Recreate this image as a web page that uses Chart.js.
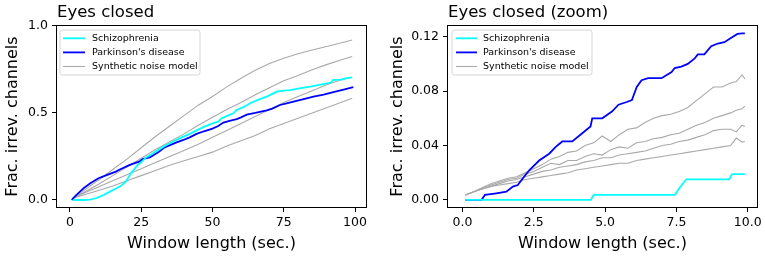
<!DOCTYPE html>
<html><head><meta charset="utf-8">
<script src="https://cdn.jsdelivr.net/npm/chart.js@4.4.0/dist/chart.umd.min.js"></script>
<style>
html,body{margin:0;padding:0;background:#fff;width:765px;height:257px;overflow:hidden}
.w{position:absolute;top:0;height:257px;width:382px}
#w1{left:0}
#w2{left:383px}
canvas{display:block}
</style></head><body>
<div class="w" id="w1"><canvas id="c1" width="382" height="257"></canvas></div>
<div class="w" id="w2"><canvas id="c2" width="382" height="257"></canvas></div>
<script>
// ---------- data: left panel (Eyes closed) ----------
const leftSchizX = [1,3,5,7,9,10.5,12,14,16,17.5,19.6,21.4,23.7,25,26.7,28.5,30.2,32,33.7,36,39.2,42,44.4,47,50,52,53.2,55,57.3,58.5,61,63.2,66,69,71,72.5,75,77.2,80,84.2,87,90.1,91.5,92.4,95,97,99];
const leftSchizY = [0,0,0,0.002,0.01,0.019,0.03,0.048,0.065,0.077,0.105,0.153,0.2,0.218,0.245,0.262,0.28,0.298,0.315,0.335,0.36,0.38,0.4,0.42,0.44,0.45,0.47,0.482,0.498,0.517,0.535,0.556,0.575,0.594,0.61,0.623,0.628,0.632,0.64,0.651,0.66,0.67,0.675,0.69,0.692,0.7,0.705];
const leftParkX = [0.6,2,3.5,5,7,8,10,11.5,14,16.1,17.5,20.8,22,24.3,25.5,26.9,28,30.4,31.3,33,35.1,37.2,39.8,42,44.4,47,50,52,53.8,56,58.5,60,62,65,69,71,73.7,76,78.4,82,85.4,89,92.4,96,99.4];
const leftParkY = [0,0.025,0.048,0.07,0.095,0.105,0.125,0.134,0.15,0.163,0.175,0.2,0.208,0.22,0.235,0.24,0.245,0.268,0.278,0.3,0.315,0.33,0.345,0.36,0.38,0.395,0.41,0.425,0.445,0.455,0.465,0.475,0.49,0.5,0.515,0.525,0.546,0.555,0.565,0.58,0.594,0.605,0.62,0.635,0.648];
const leftNoiseX = [1,5,10,15,20,25,30,35,40,45,50,55,60,65,70,75,80,85,90,95,99];
const leftNoiseA = [0.01,0.055,0.115,0.175,0.235,0.30,0.365,0.425,0.485,0.545,0.595,0.65,0.70,0.745,0.785,0.815,0.84,0.862,0.882,0.902,0.92];
const leftNoiseB = [0.01,0.045,0.09,0.14,0.19,0.24,0.29,0.335,0.38,0.43,0.475,0.52,0.56,0.605,0.645,0.685,0.715,0.748,0.778,0.805,0.825];
const leftNoiseC = [0.01,0.04,0.075,0.11,0.145,0.18,0.215,0.25,0.285,0.32,0.36,0.40,0.44,0.48,0.52,0.56,0.595,0.628,0.662,0.69,0.705];
const leftNoiseD = [0.01,0.03,0.055,0.08,0.11,0.14,0.17,0.20,0.225,0.25,0.275,0.31,0.34,0.37,0.41,0.44,0.47,0.50,0.53,0.56,0.585];
const leftXTicks = [0,25,50,75,100];
const leftXTickLabels = ['0','25','50','75','100'];
const leftYTicks = [0,0.5,1.0];
const leftYTickLabels = ['0.0','0.5','1.0'];

// ---------- data: right panel (Eyes closed (zoom)) ----------
const rightSchizX = [0.1,4.5,4.6,7.45,7.6,7.85,9.35,9.45,9.9];
const rightSchizY = [0,0,0.0038,0.0038,0.0086,0.0152,0.0152,0.019,0.019];
const rightParkX = [0.1,0.67,0.79,1.19,1.54,1.77,1.94,2.12,2.35,2.69,3.04,3.27,3.5,3.85,4.2,4.49,4.55,4.9,5.24,5.47,5.76,5.94,6.11,6.28,6.51,6.98,7.33,7.44,7.67,7.9,8.14,8.25,8.48,8.72,8.95,9.18,9.41,9.64,9.81,9.9];
const rightParkY = [0,0,0.0037,0.0049,0.0061,0.0098,0.011,0.016,0.022,0.029,0.034,0.039,0.043,0.043,0.049,0.054,0.060,0.060,0.065,0.070,0.072,0.0735,0.083,0.088,0.0895,0.0895,0.094,0.097,0.098,0.100,0.104,0.107,0.107,0.113,0.115,0.116,0.119,0.122,0.1225,0.1225];
const rightNoiseX = [0.1,0.4,0.7,1.0,1.3,1.6,1.9,2.2,2.5,2.8,3.1,3.4,3.7,4.0,4.3,4.6,4.9,5.2,5.5,5.8,6.1,6.4,6.7,7.0,7.3,7.6,7.9,8.2,8.5,8.8,9.1,9.4,9.6,9.8,9.9];
const rightNoiseA = [0.0037,0.006,0.009,0.012,0.014,0.016,0.017,0.020,0.023,0.026,0.030,0.032,0.035,0.036,0.040,0.042,0.047,0.043,0.048,0.052,0.053,0.057,0.060,0.062,0.063,0.065,0.068,0.073,0.078,0.083,0.083,0.086,0.087,0.092,0.089];
const rightNoiseB = [0.0037,0.006,0.009,0.011,0.013,0.015,0.016,0.019,0.021,0.024,0.027,0.026,0.029,0.029,0.032,0.034,0.033,0.037,0.039,0.038,0.042,0.043,0.045,0.046,0.048,0.049,0.052,0.055,0.057,0.060,0.062,0.064,0.066,0.067,0.069];
const rightNoiseC = [0.0037,0.006,0.008,0.010,0.012,0.014,0.015,0.017,0.019,0.021,0.022,0.024,0.025,0.026,0.028,0.029,0.031,0.031,0.033,0.034,0.035,0.036,0.038,0.040,0.041,0.043,0.044,0.046,0.048,0.051,0.052,0.052,0.050,0.055,0.054];
const rightNoiseD = [0.0037,0.006,0.008,0.010,0.011,0.012,0.013,0.015,0.016,0.017,0.018,0.019,0.020,0.022,0.023,0.024,0.025,0.026,0.027,0.027,0.029,0.030,0.031,0.032,0.033,0.034,0.035,0.036,0.037,0.038,0.039,0.040,0.0455,0.0425,0.043];
const rightXTicks = [0,2.5,5,7.5,10];
const rightXTickLabels = ['0.0','2.5','5.0','7.5','10.0'];
const rightYTicks = [0,0.04,0.08,0.12];
const rightYTickLabels = ['0.00','0.04','0.08','0.12'];

const legendLabels = ['Schizophrenia', "Parkinson's disease", 'Synthetic noise model'];
const legendColors = ['#00ffff', '#0000ff', '#a9a9a9'];
const titles = ['Eyes closed', 'Eyes closed (zoom)'];
const xTitle = 'Window length (sec.)';
const yTitle = 'Frac. irrev. channels';

// ---------- rendering ----------
const FAM = '"DejaVu Sans", sans-serif';

function series(label, xs, ys, color, w) {
  return {label, data: xs.map((x, i) => ({x, y: ys[i]})), borderColor: color,
    backgroundColor: color, borderWidth: w, pointRadius: 0, fill: false, tension: 0};
}

const deco = {
  id: 'deco',
  afterDraw(chart, args, o) {
    const {ctx, chartArea: a} = chart;
    ctx.save();
    ctx.strokeStyle = '#000'; ctx.lineWidth = 1;
    ctx.strokeRect(Math.round(a.left) + 0.5, Math.round(a.top) + 0.5,
      Math.round(a.right - a.left) - 1, Math.round(a.bottom - a.top) - 1);
    ctx.fillStyle = '#000';
    ctx.font = '16.5px ' + FAM;
    ctx.textAlign = 'left'; ctx.textBaseline = 'alphabetic';
    ctx.fillText(o.title, a.left + 1, 17);
    const L = o.legend;
    const x = a.left + L.dx, y = a.top + L.dy, w = L.w, h = L.h, r = 2.5;
    ctx.globalAlpha = 0.8;
    ctx.beginPath();
    ctx.moveTo(x + r, y); ctx.lineTo(x + w - r, y); ctx.arcTo(x + w, y, x + w, y + r, r);
    ctx.lineTo(x + w, y + h - r); ctx.arcTo(x + w, y + h, x + w - r, y + h, r);
    ctx.lineTo(x + r, y + h); ctx.arcTo(x, y + h, x, y + h - r, r);
    ctx.lineTo(x, y + r); ctx.arcTo(x, y, x + r, y, r); ctx.closePath();
    ctx.fillStyle = '#fff'; ctx.fill();
    ctx.strokeStyle = '#cccccc'; ctx.lineWidth = 1; ctx.stroke();
    ctx.globalAlpha = 1;
    ctx.font = '9.5px ' + FAM;
    ctx.textBaseline = 'middle';
    for (let i = 0; i < legendLabels.length; i++) {
      const yy = y + 8.3 + i * 14.1;
      ctx.strokeStyle = legendColors[i];
      ctx.lineWidth = i < 2 ? 1.8 : 1.1;
      ctx.beginPath(); ctx.moveTo(x + L.h0, yy); ctx.lineTo(x + L.h1, yy); ctx.stroke();
      ctx.fillStyle = '#000';
      ctx.fillText(legendLabels[i], x + L.tx, yy + 0.5);
    }
    ctx.restore();
  }
};

function build(id, p) {
  const tickFont = {family: FAM, size: 12.5};
  const titleFont = {family: FAM, size: 16};
  new Chart(document.getElementById(id), {
    type: 'line',
    data: {datasets: [
      series(legendLabels[0], p.sx, p.sy, legendColors[0], 1.8),
      series(legendLabels[1], p.px, p.py, legendColors[1], 1.8),
      ...p.noise.map(n => series(legendLabels[2], p.nx, n, legendColors[2], 1.1))
    ]},
    options: {
      responsive: false, animation: false, devicePixelRatio: 1,
      layout: {padding: {top: 25, right: p.padRight, left: 0, bottom: 0}},
      plugins: {legend: {display: false}, tooltip: {enabled: false},
        deco: {title: p.title, legend: p.legend}},
      scales: {
        x: {type: 'linear', min: p.xmin, max: p.xmax,
          afterBuildTicks: s => { s.ticks = p.xt.map(v => ({value: v})); },
          afterFit: s => { s.height = 49; },
          ticks: {callback: (v, i) => p.xl[i], font: tickFont, color: '#000', padding: 3, maxRotation: 0, autoSkip: false},
          grid: {drawOnChartArea: false, drawTicks: true, tickLength: 4, color: '#000', lineWidth: 1},
          border: {display: false},
          title: {display: true, text: xTitle, font: titleFont, color: '#000', padding: {top: 0, bottom: 3.4}}
        },
        y: {type: 'linear', min: p.ymin, max: p.ymax,
          afterBuildTicks: s => { s.ticks = p.yt.map(v => ({value: v})); },
          afterFit: s => { s.width = p.yWidth; },
          ticks: {callback: (v, i) => p.yl[i], font: tickFont, color: '#000', padding: 4, autoSkip: false},
          grid: {drawOnChartArea: false, drawTicks: true, tickLength: 4, color: '#000', lineWidth: 1},
          border: {display: false},
          title: {display: true, text: yTitle, font: titleFont, color: '#000', padding: {top: p.yTitlePad, bottom: 0}}
        }
      }
    },
    plugins: [deco]
  });
}

build('c1', {
  sx: leftSchizX, sy: leftSchizY, px: leftParkX, py: leftParkY,
  nx: leftNoiseX, noise: [leftNoiseA, leftNoiseB, leftNoiseC, leftNoiseD],
  xt: leftXTicks, xl: leftXTickLabels, yt: leftYTicks, yl: leftYTickLabels,
  xmin: -4.9, xmax: 104.2, ymin: -0.046, ymax: 1.0057,
  yWidth: 56, padRight: 15, yTitlePad: 2.9, title: titles[0],
  legend: {dx: 4, dy: 5, w: 140, h: 45, h0: 3, h1: 25, tx: 32}
});
build('c2', {
  sx: rightSchizX, sy: rightSchizY, px: rightParkX, py: rightParkY,
  nx: rightNoiseX, noise: [rightNoiseA, rightNoiseB, rightNoiseC, rightNoiseD],
  xt: rightXTicks, xl: rightXTickLabels, yt: rightYTicks, yl: rightYTickLabels,
  xmin: -0.54, xmax: 10.36, ymin: -0.0059, ymax: 0.1286,
  yWidth: 64, padRight: 7, yTitlePad: 4.9, title: titles[1],
  legend: {dx: 5, dy: 5, w: 140, h: 45, h0: 4, h1: 25, tx: 31}
});
</script>
</body></html>
